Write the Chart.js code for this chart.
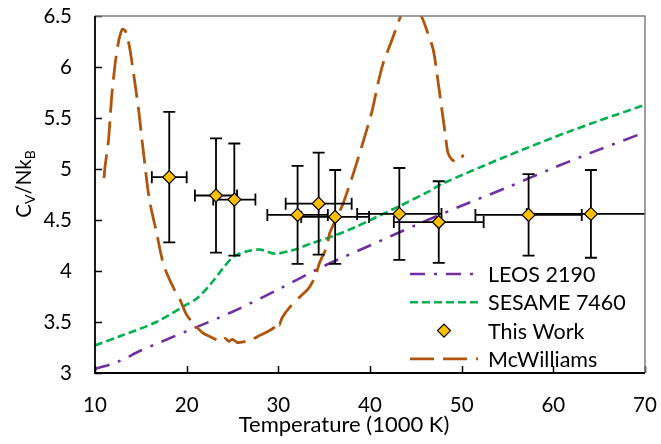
<!DOCTYPE html>
<html><head><meta charset="utf-8">
<script src="https://cdn.jsdelivr.net/npm/chart.js@4.4.1/dist/chart.umd.min.js"></script>
<style>html,body{margin:0;padding:0;background:#fff;}#wrap{width:661px;height:444px;}</style>
</head><body><div id="wrap"><canvas id="c" width="661" height="444"></canvas></div>
<script>
// ---- data ----
const xTickValues = [10, 20, 30, 40, 50, 60, 70];
const xTickLabels = ['10', '20', '30', '40', '50', '60', '70'];
const yTickValues = [3, 3.5, 4, 4.5, 5, 5.5, 6, 6.5];
const yTickLabels = ['3', '3.5', '4', '4.5', '5', '5.5', '6', '6.5'];

const seriesNames = ['LEOS 2190', 'SESAME 7460', 'This Work', 'McWilliams'];

const leosT = [10, 12.5, 15, 20, 25, 30, 35, 40, 45, 50, 55, 60, 65, 70];
const leosC = [3.04, 3.11, 3.22, 3.41, 3.60, 3.82, 4.05, 4.25, 4.45, 4.64, 4.82, 5.01, 5.19, 5.36];

const sesameT = [10, 13, 16.7, 19.6, 21.1, 22.5, 24, 25.1, 26.5, 28, 29.6, 31.4, 33.6, 36.2, 38.4, 40.5, 43.3, 46.2, 48, 54.5, 61.8, 70];
const sesameC = [3.27, 3.37, 3.50, 3.65, 3.73, 3.86, 4.03, 4.14, 4.19, 4.21, 4.17, 4.20, 4.27, 4.35, 4.43, 4.52, 4.64, 4.77, 4.86, 5.11, 5.37, 5.63];

const workT    = [18.1, 23.2, 25.2, 32.1, 34.4, 36.2, 43.2, 47.5, 57.3, 64.1];
const workC    = [4.92, 4.74, 4.70, 4.55, 4.66, 4.53, 4.56, 4.48, 4.55, 4.56];
const workTErr = [1.9, 2.3, 2.3, 3.3, 3.6, 3.7, 4.6, 4.9, 5.8, 7.0];
const workCErr = [0.64, 0.56, 0.55, 0.48, 0.50, 0.46, 0.45, 0.40, 0.40, 0.43];

const mcwT = [10.98, 11.09, 11.45, 11.64, 11.82, 12.18, 12.51, 12.73, 12.98, 13.27, 13.49, 13.82, 14.15, 14.47, 14.80, 15.13, 15.45, 15.78, 16.0, 16.2, 16.73, 17.09, 17.4, 17.82, 18.54, 19.27, 20.0, 20.9, 21.8, 22.7, 23.7, 24.2, 24.6, 25.0, 25.5, 25.8, 26.9, 28.0, 28.7, 29.6, 29.9, 30.1, 30.4, 31.3, 32.4, 33.3, 34.0, 34.5, 35.3, 35.6, 36.4, 37.1, 38.2, 39.3, 40.2, 40.9, 41.45, 42.37, 43.27, 43.8, 44.6, 45.2, 45.7, 46.2, 46.9, 47.45, 47.8, 48.2, 48.5, 48.95, 49.46, 49.8, 50.2];
const mcwC = [4.91, 5.02, 5.26, 5.48, 5.71, 6.02, 6.22, 6.31, 6.37, 6.36, 6.31, 6.17, 5.97, 5.77, 5.55, 5.28, 5.04, 4.79, 4.67, 4.58, 4.37, 4.21, 4.09, 3.98, 3.84, 3.72, 3.57, 3.47, 3.39, 3.35, 3.31, 3.34, 3.31, 3.33, 3.30, 3.30, 3.32, 3.37, 3.40, 3.45, 3.50, 3.47, 3.54, 3.65, 3.75, 3.83, 3.94, 4.08, 4.24, 4.37, 4.53, 4.67, 4.96, 5.28, 5.56, 5.85, 6.04, 6.26, 6.48, 6.58, 6.61, 6.56, 6.48, 6.36, 6.17, 5.84, 5.61, 5.35, 5.16, 5.09, 5.07, 5.09, 5.14];

const pts = (xs, ys) => xs.map((x, i) => ({ x: x, y: ys[i] }));

const FONT = 'Lato, "Open Sans", sans-serif';

// ---- plugin: frame, inner ticks, error bars, axis titles, legend ----
const decor = {
  id: 'decor',
  beforeDatasetDraw(chart, args) {
    const ds = chart.data.datasets[args.index];
    if (ds.label !== 'This Work') return;
    const ctx = chart.ctx, xs = chart.scales.x, ys = chart.scales.y, ca = chart.chartArea;
    ctx.save();
    ctx.beginPath(); ctx.rect(ca.left, ca.top, ca.right - ca.left, ca.bottom - ca.top); ctx.clip();
    ctx.strokeStyle = '#000'; ctx.lineWidth = 1.8;
    const cap = 6;
    workT.forEach((t, i) => {
      const px = xs.getPixelForValue(t), py = ys.getPixelForValue(workC[i]);
      const x0 = xs.getPixelForValue(t - workTErr[i]), x1 = xs.getPixelForValue(t + workTErr[i]);
      const y0 = ys.getPixelForValue(workC[i] - workCErr[i]), y1 = ys.getPixelForValue(workC[i] + workCErr[i]);
      ctx.beginPath();
      ctx.moveTo(x0, py); ctx.lineTo(x1, py);
      ctx.moveTo(x0, py - cap); ctx.lineTo(x0, py + cap);
      ctx.moveTo(x1, py - cap); ctx.lineTo(x1, py + cap);
      ctx.moveTo(px, y0); ctx.lineTo(px, y1);
      ctx.moveTo(px - cap, y0); ctx.lineTo(px + cap, y0);
      ctx.moveTo(px - cap, y1); ctx.lineTo(px + cap, y1);
      ctx.stroke();
    });
    ctx.restore();
  },
  afterDraw(chart) {
    const ctx = chart.ctx, ca = chart.chartArea, xs = chart.scales.x, ys = chart.scales.y;
    ctx.save();
    // inner tick marks
    ctx.strokeStyle = '#000'; ctx.lineWidth = 1.5;
    ctx.beginPath();
    xTickValues.forEach(v => { const p = Math.round(xs.getPixelForValue(v)) + 0.5; ctx.moveTo(p, ca.bottom); ctx.lineTo(p, ca.bottom - 7); });
    yTickValues.forEach(v => { const p = Math.round(ys.getPixelForValue(v)) + 0.5; ctx.moveTo(ca.left, p); ctx.lineTo(ca.left + 7, p); });
    ctx.stroke();
    // frame: top/right gray, left/bottom black
    ctx.strokeStyle = '#7f7f7f'; ctx.lineWidth = 1.5;
    ctx.beginPath(); ctx.moveTo(ca.left, ca.top); ctx.lineTo(ca.right, ca.top); ctx.lineTo(ca.right, ca.bottom); ctx.stroke();
    ctx.strokeStyle = '#000'; ctx.lineWidth = 1.8;
    ctx.beginPath(); ctx.moveTo(ca.left, ca.top); ctx.lineTo(ca.left, ca.bottom); ctx.lineTo(ca.right, ca.bottom); ctx.stroke();

    // x axis title
    ctx.fillStyle = '#000';
    ctx.font = '22px ' + FONT;
    ctx.textAlign = 'center'; ctx.textBaseline = 'alphabetic';
    ctx.fillText('Temperature (1000 K)', ca.left + 249, ca.bottom + 59);

    // y axis title with subscripts
    const main = '20.5px ' + FONT, sub = '14px ' + FONT;
    const parts = [['C', main, 0], ['V', sub, 4], ['/Nk', main, 0], ['B', sub, 4]];
    let total = 0;
    parts.forEach(p => { ctx.font = p[1]; total += ctx.measureText(p[0]).width; });
    ctx.translate(31, ca.top + 168);
    ctx.rotate(-Math.PI / 2);
    ctx.textAlign = 'left';
    let cx = -total / 2;
    parts.forEach(p => { ctx.font = p[1]; ctx.fillText(p[0], cx, p[2]); cx += ctx.measureText(p[0]).width; });
    ctx.setTransform(1, 0, 0, 1, 0, 0);

    // legend (inside plot, lower right)
    const lx0 = ca.right - 235, lx1 = ca.right - 167, tx = ca.right - 157;
    ctx.font = '21.5px ' + FONT; ctx.textAlign = 'left'; ctx.textBaseline = 'middle';
    chart.data.datasets.forEach((ds, i) => {
      const y = ca.bottom - 99 + i * 28.3;
      if (ds.showLine) {
        ctx.save();
        ctx.strokeStyle = ds.borderColor; ctx.lineWidth = ds.borderWidth;
        ctx.setLineDash(ds.borderDash || []);
        ctx.beginPath(); ctx.moveTo(lx0, y); ctx.lineTo(lx1, y); ctx.stroke();
        ctx.restore();
      } else {
        const cxp = (lx0 + lx1) / 2, r = ds.pointRadius;
        ctx.beginPath();
        ctx.moveTo(cxp, y - r); ctx.lineTo(cxp + r, y); ctx.lineTo(cxp, y + r); ctx.lineTo(cxp - r, y); ctx.closePath();
        ctx.fillStyle = ds.backgroundColor; ctx.fill();
        ctx.strokeStyle = ds.borderColor; ctx.lineWidth = ds.borderWidth; ctx.stroke();
      }
      ctx.fillStyle = '#000';
      ctx.fillText(ds.label, tx, y + 1);
    });
    ctx.restore();
  }
};

new Chart(document.getElementById('c'), {
  type: 'scatter',
  data: {
    datasets: [
      { label: seriesNames[0], data: pts(leosT, leosC), showLine: true, borderColor: '#7030A0', backgroundColor: '#7030A0',
        borderWidth: 2.6, borderDash: [15, 9, 3, 9], pointRadius: 0, tension: 0.3, order: 3, clip: 0 },
      { label: seriesNames[1], data: pts(sesameT, sesameC), showLine: true, borderColor: '#00B050', backgroundColor: '#00B050',
        borderWidth: 2.6, borderDash: [8, 4], pointRadius: 0, tension: 0.3, order: 2, clip: 0 },
      { label: seriesNames[2], data: pts(workT, workC), showLine: false, pointStyle: 'rectRot', pointRadius: 6.5,
        backgroundColor: '#FFC000', borderColor: '#000', borderWidth: 1.2, order: 0, clip: 0 },
      { label: seriesNames[3], data: pts(mcwT, mcwC), showLine: true, borderColor: '#B0560C', backgroundColor: '#B0560C',
        borderWidth: 2.8, borderDash: [24, 9], pointRadius: 0, tension: 0.25, order: 1, clip: 0 }
    ]
  },
  options: {
    responsive: false, animation: false, devicePixelRatio: 1,
    layout: { padding: { left: 0, top: 16, right: 16, bottom: 0 } },
    plugins: { legend: { display: false }, tooltip: { enabled: false } },
    scales: {
      x: {
        type: 'linear', min: 10, max: 70,
        afterBuildTicks: s => { s.ticks = xTickValues.map(v => ({ value: v })); },
        afterFit: s => { s.height = 71; s.paddingLeft = 0; s.paddingRight = 0; },
        ticks: { callback: (v, i) => xTickLabels[i], color: '#000', font: { family: FONT, size: 20.5 }, padding: 20, maxRotation: 0 },
        grid: { display: false, drawTicks: false }, border: { display: false }
      },
      y: {
        type: 'linear', min: 3, max: 6.5,
        afterBuildTicks: s => { s.ticks = yTickValues.map(v => ({ value: v })); },
        afterFit: s => { s.width = 95; s.paddingTop = 0; s.paddingBottom = 0; },
        ticks: { callback: (v, i) => yTickLabels[i], color: '#000', font: { family: FONT, size: 20.5 }, padding: 23 },
        grid: { display: false, drawTicks: false }, border: { display: false }
      }
    }
  },
  plugins: [decor]
});
</script>
</body></html>
